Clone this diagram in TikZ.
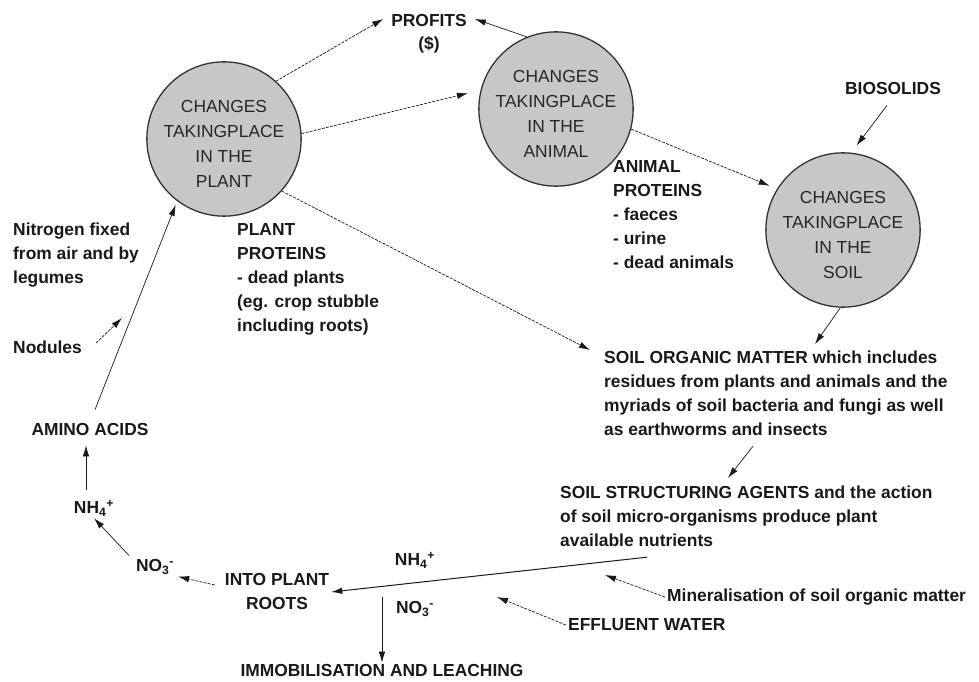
\documentclass[tikz,border=0pt]{standalone}
\usepackage{fontspec}
\setmainfont{Liberation Sans}
\usetikzlibrary{arrows.meta,calc}
\newcommand\ionsub[2]{\textsubscript{#1}\textsuperscript{#2}}
\newcommand\circtop{\rule{0pt}{22pt}}
\begin{document}
\begin{tikzpicture}[x=1pt,y=-1pt,
  lbl/.style={font=\fontsize{17.4}{24}\selectfont\bfseries, inner sep=2pt, text=black!90},
  blk/.style={lbl, align=left, anchor=north west, inner sep=0pt},
  circ/.style={circle, draw=black!80, line width=1.3pt, fill=black!22, minimum size=154pt,
    inner sep=0pt, align=center, text=black!85, font=\fontsize{17.4}{25}\selectfont},
  arr/.style={-{Latex[length=11pt,width=6.5pt]}, line width=0.7pt, black!90},
  darr/.style={arr, dash pattern=on 3pt off 1.2pt}]
\useasboundingbox[fill=white] (0,0) rectangle (979,682);

% circles
\node[circ] (plant)  at (224,139) {\circtop CHANGES\\TAKINGPLACE\\IN THE\\PLANT};
\node[circ] (animal) at (556,109) {\circtop CHANGES\\TAKINGPLACE\\IN THE\\ANIMAL};
\node[circ] (soil)   at (843,230) {\circtop CHANGES\\TAKINGPLACE\\IN THE\\SOIL};

% labels
\node[lbl] (profits) at (429,21) {PROFITS};
\node[lbl] (dollar) at (429,45) {(\$)};
\node[lbl] (biosolids) at (893,89) {BIOSOLIDS};
\node[blk] (animprot) at (613,160) {ANIMAL\\PROTEINS\\- faeces\\- urine\\- dead animals};
\node[blk] (plantprot) at (237,223) {PLANT\\PROTEINS\\- dead plants\\(eg. crop stubble\\including roots)};
\node[blk] (nitro) at (13,223) {Nitrogen fixed\\from air and by\\legumes};
\node[lbl, anchor=west] (nodules) at (11,347) {Nodules};
\node[lbl] (amino) at (90,430) {AMINO ACIDS};
\node[lbl] (nh4a) at (94,508) {NH\ionsub{4}{+}};
\node[lbl] (no3a) at (155,567) {NO\ionsub{3}{-}};
\node[lbl, align=center] (roots) at (277,592) {INTO PLANT\\ROOTS};
\node[lbl] (nh4b) at (415,560) {NH\ionsub{4}{+}};
\node[lbl] (no3b) at (415,609) {NO\ionsub{3}{-}};
\node[lbl] (immob) at (382,671) {IMMOBILISATION AND LEACHING};
\node[blk] (som) at (604,351) {SOIL ORGANIC MATTER which includes\\residues from plants and animals and the\\myriads of soil bacteria and fungi as well\\as earthworms and insects};
\node[blk] (ssa) at (560,486) {SOIL STRUCTURING AGENTS and the action\\of soil micro-organisms produce plant\\available nutrients};
\node[lbl, anchor=west] (mineral) at (665,597) {Mineralisation of soil organic matter};
\node[lbl, anchor=west] (effluent) at (566,625) {EFFLUENT WATER};

\coordinate (minTip) at (605,575);
\coordinate (effTip) at (497,597);
\coordinate (nodTip) at (122,318);

% connectors
\draw[darr] (plant.48) -- ($(profits.west)+(-6,-2)$);
\draw[darr, shorten >=13pt] (plant.4) -- (animal.166);
\draw[arr] (animal.112) -- ($(profits.east)+(6,-2)$);
\draw[darr, shorten >=8pt] (animal.-15) -- (soil.148);
\draw[arr, shorten >=9pt] ($(biosolids.south)+(-6,8)$) -- (soil.84);
\draw[arr] (soil.-92) -- ($(som.north west)+(211,-7)$);
\draw[darr] (plant.-42) -- ($(som.north west)+(-14,-1)$);
\draw[arr] ($(som.south west)+(149,10)$) -- ($(ssa.north west)+(168,-8)$);
\draw[arr, line width=1pt] ($(ssa.south west)+(87,10)$) -- (roots.east);
\draw[darr] (mineral.west) -- (minTip);
\draw[darr] (effluent.west) -- (effTip);
\draw[darr] ($(roots.west)+(-8,-7)$) -- ($(no3a.south east)+(2,0)$);
\draw[arr] ($(no3a.north west)+(-5,-2)$) -- (nh4a.south);
\draw[arr] ($(nh4a.north)+(-8,-8)$) -- ($(nh4a.north |- amino.south)+(-8,7)$);
\draw[arr, shorten >=4pt] ($(amino.north)+(5,-12)$) -- (plant.233);
\draw[darr] ($(nodules.east)+(12,-4)$) -- (nodTip);
\draw[arr] ($(immob.north |- roots.east)+(0,5)$) -- (immob.north);
\end{tikzpicture}
\end{document}
